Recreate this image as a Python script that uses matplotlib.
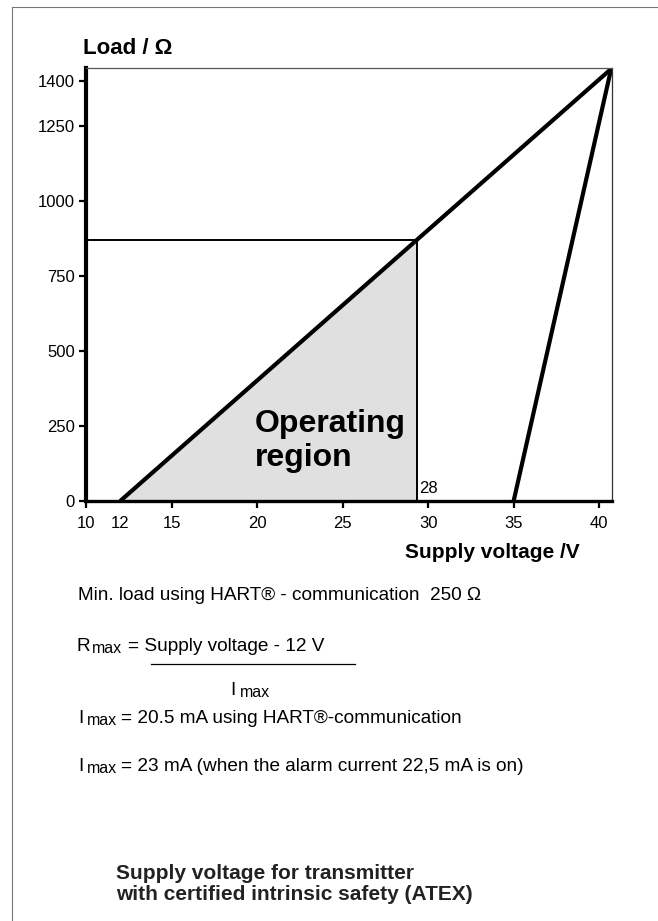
import numpy as np
import matplotlib
matplotlib.use('Agg')
import matplotlib.pyplot as plt
from matplotlib.lines import Line2D

plt.rcParams['font.family'] = ['Liberation Sans', 'DejaVu Sans']

# ----- data -----
load_line_v  = [12.0, 40.7]     # supply voltage / V
load_line_r  = [0.0, 1440.0]    # load / Ohm
exi_line_v   = [35.0, 40.7]
exi_line_r   = [0.0, 1440.0]
op_v, op_r   = 29.36, 871.0     # corner of the operating region (labelled 28)
region_v     = [12.0, op_v, op_v]
region_r     = [0.0, op_r, 0.0]
xticks       = [10, 15, 20, 25, 30, 35, 40]
yticks       = [0, 250, 500, 750, 1000, 1250, 1400]

W, H = 658, 921
def fx(px): return px / W
def fy(py): return 1 - py / H

fig = plt.figure(figsize=(W/100, H/100), dpi=100)
ax = fig.add_axes([fx(86), fy(501), fx(612) - fx(86), fy(68) - fy(501)])

ax.fill(region_v, region_r, color='#e0e0e0', zorder=1, lw=0)
ax.plot(load_line_v, load_line_r, color='k', lw=3.0, zorder=3, solid_capstyle='butt')
ax.plot(exi_line_v, exi_line_r, color='k', lw=3.0, zorder=3, solid_capstyle='butt')
ax.plot([10, op_v], [op_r, op_r], color='k', lw=1.4, zorder=2)
ax.plot([op_v, op_v], [0, op_r], color='k', lw=1.4, zorder=2)

ax.set_xlim(10, 40.75)
ax.set_ylim(0, 1443)
ax.set_xticks(xticks)
ax.set_xticks([12], minor=True)
ax.set_xticklabels([str(t) for t in xticks], fontsize=12)
ax.set_xticklabels(['12'], minor=True, fontsize=12)
ax.set_yticks(yticks)
ax.set_yticklabels([str(t) for t in yticks], fontsize=12)
ax.tick_params(axis='both', which='major', direction='out', length=5, width=1.6, pad=3)
ax.tick_params(axis='x', which='minor', length=0, pad=10.5)
ax.tick_params(axis='x', which='major', pad=6)

ax.spines['left'].set_linewidth(3.0)
ax.spines['bottom'].set_linewidth(2.4)
ax.spines['top'].set_linewidth(0.9)
ax.spines['top'].set_color('#555555')
ax.spines['right'].set_linewidth(0.9)
ax.spines['right'].set_color('#333333')
for s in ax.spines.values():
    s.set_zorder(5)

ax.text(op_v + 0.12, 16, '28', fontsize=12, ha='left', va='bottom', zorder=4)
fig.text(fx(255), fy(441), 'Operating\nregion', fontsize=23, fontweight='bold',
         ha='left', va='center', linespacing=1.15)

fig.text(fx(83), fy(48), 'Load / Ω', fontsize=16, fontweight='bold', ha='left', va='center')
fig.text(fx(405), fy(552), 'Supply voltage /V', fontsize=15, fontweight='bold', ha='left', va='center')

# ----- notes below the chart -----
fs, fs_sub = 13.7, 11.5
fig.text(fx(78), fy(600), 'Min. load using HART® - communication  250 Ω', fontsize=fs, va='baseline')

fig.text(fx(77), fy(651), 'R', fontsize=fs, va='baseline')
fig.text(fx(92), fy(653), 'max', fontsize=fs_sub, va='baseline')
fig.text(fx(128), fy(651), '= Supply voltage - 12 V', fontsize=fs, va='baseline')
fig.add_artist(Line2D([fx(151), fx(355)], [fy(664), fy(664)], color='k', lw=0.9))
fig.text(fx(230), fy(695), 'I', fontsize=fs, va='baseline')
fig.text(fx(240), fy(697), 'max', fontsize=fs_sub, va='baseline')

fig.text(fx(78), fy(723), 'I', fontsize=fs, va='baseline')
fig.text(fx(87), fy(725), 'max', fontsize=fs_sub, va='baseline')
fig.text(fx(121), fy(723), '= 20.5 mA using HART®-communication', fontsize=fs, va='baseline')

fig.text(fx(78), fy(771), 'I', fontsize=fs, va='baseline')
fig.text(fx(87), fy(773), 'max', fontsize=fs_sub, va='baseline')
fig.text(fx(121), fy(771), '= 23 mA (when the alarm current 22,5 mA is on)', fontsize=fs, va='baseline')

fig.text(fx(116), fy(884), 'Supply voltage for transmitter\nwith certified intrinsic safety (ATEX)',
         fontsize=15, fontweight='bold', ha='left', va='center', linespacing=1.15, color='#222222')

# page frame (left and top edges)
fig.add_artist(Line2D([fx(12), fx(12)], [fy(7), 0], color='#777777', lw=0.8))
fig.add_artist(Line2D([fx(12), 1], [fy(7), fy(7)], color='#777777', lw=0.8))

fig.savefig('out.png', dpi=100)
